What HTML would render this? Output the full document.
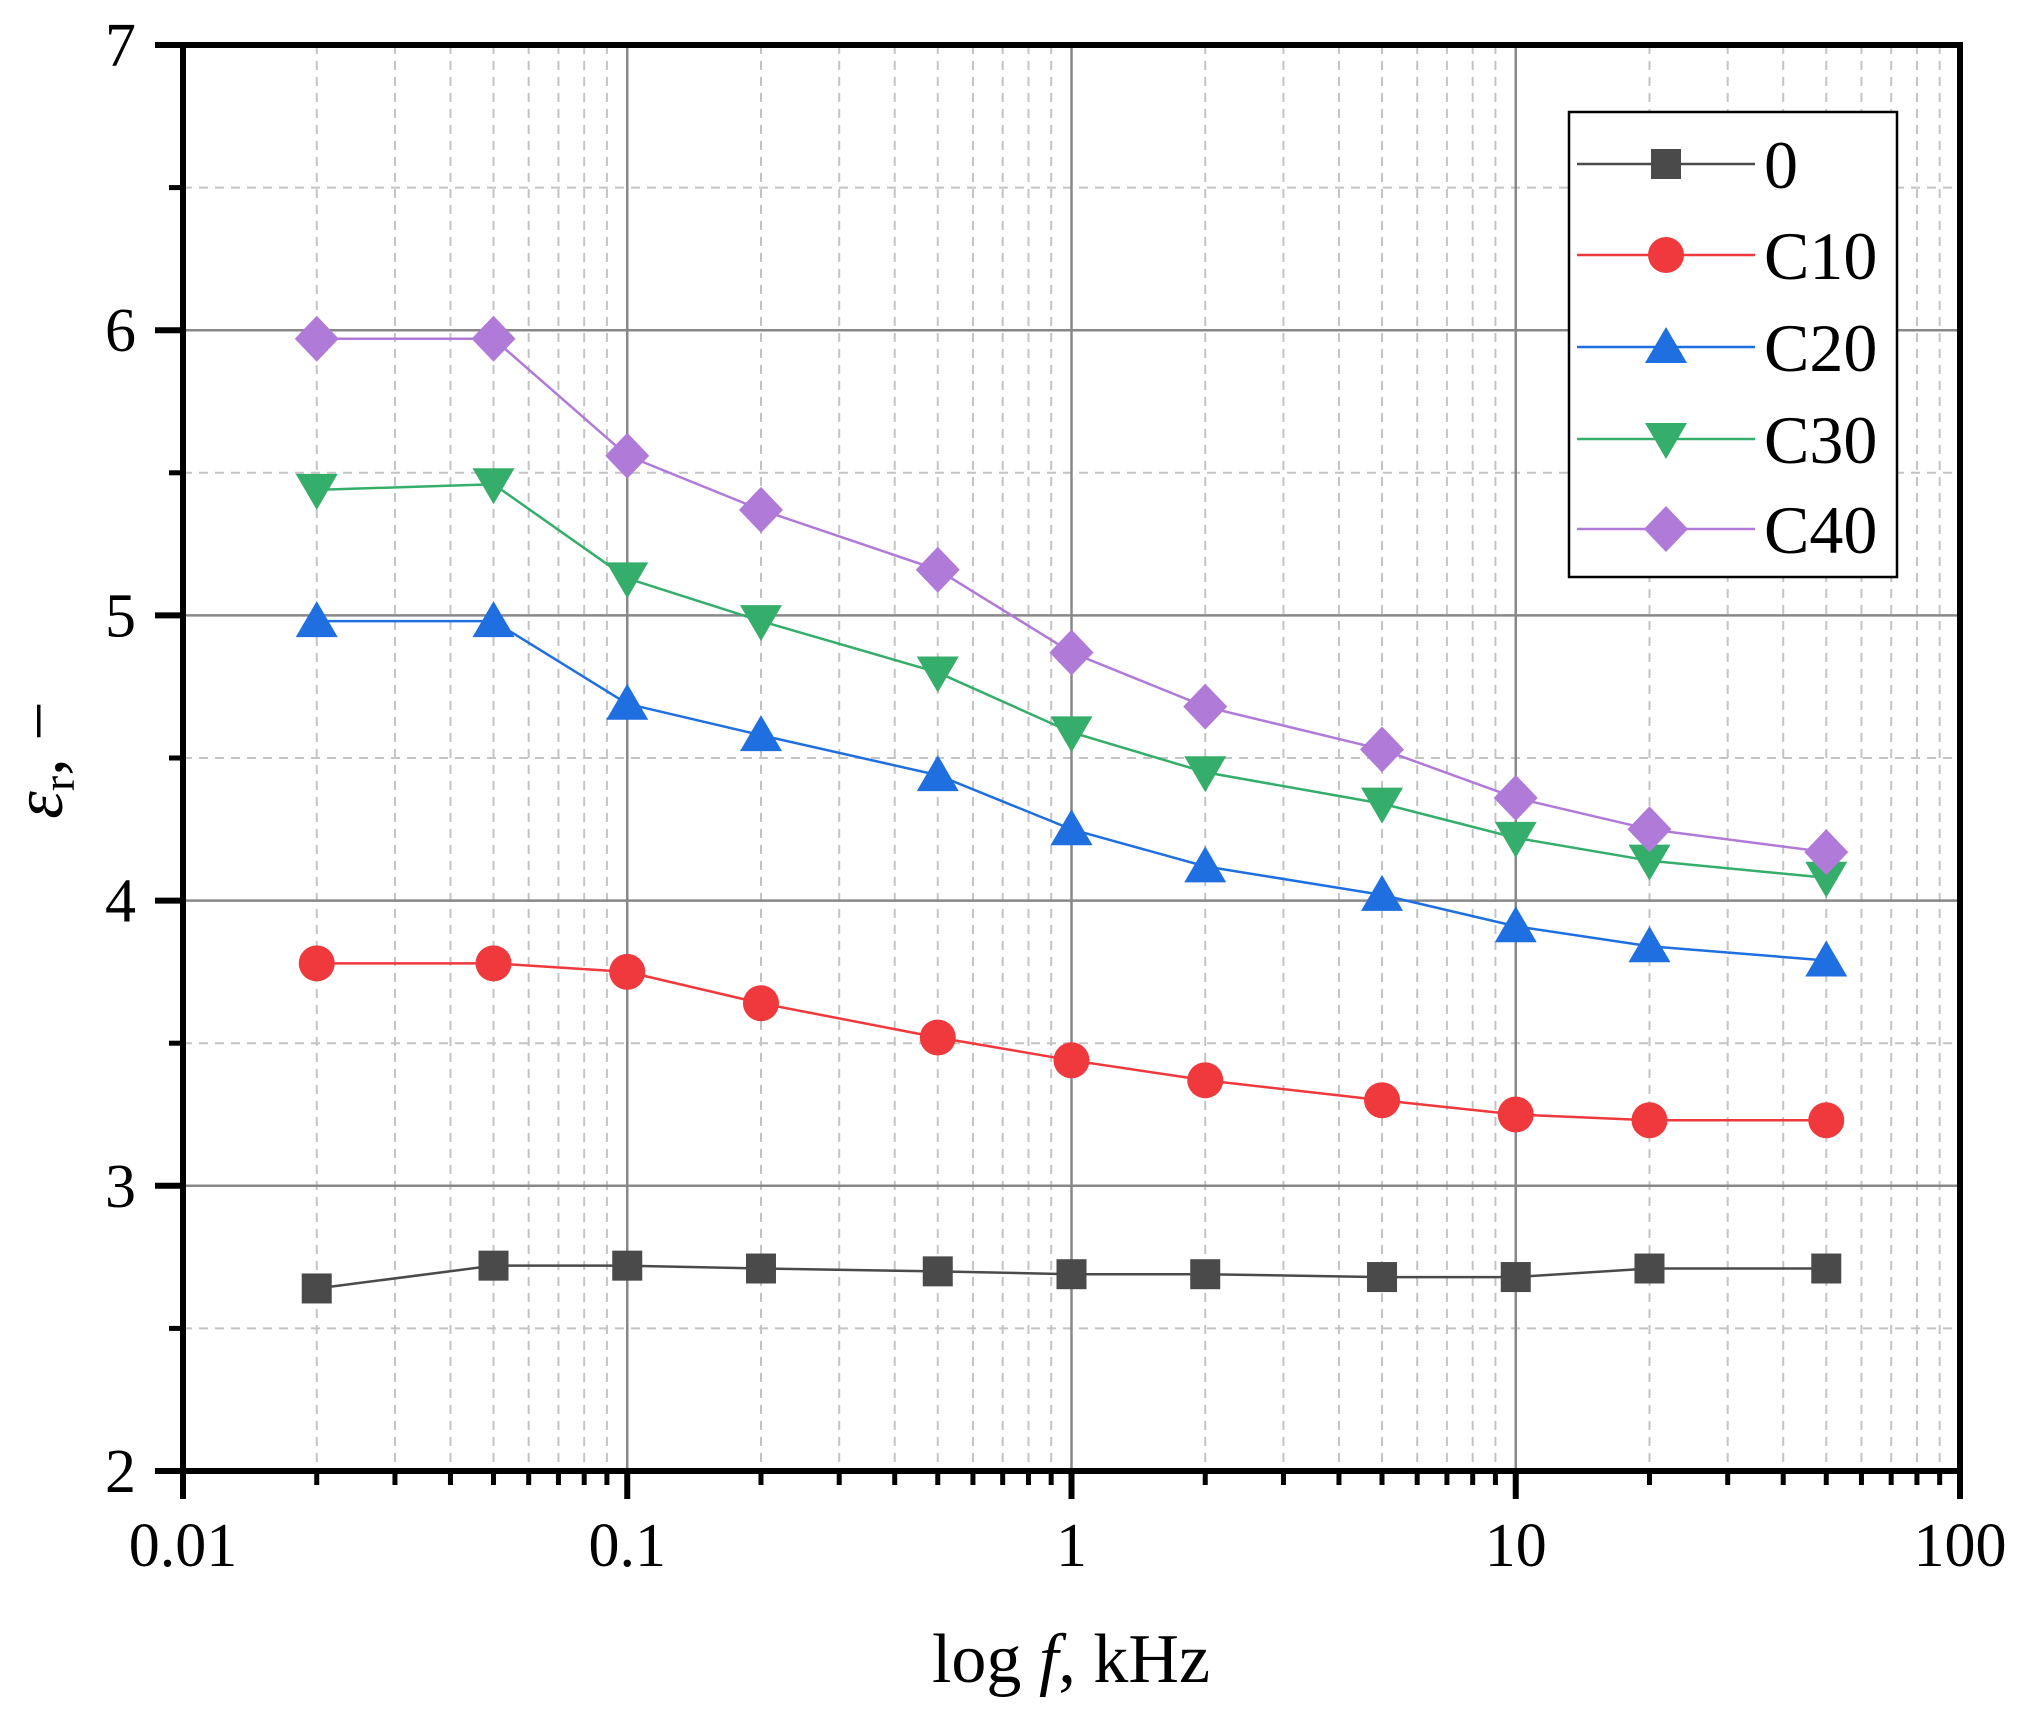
<!DOCTYPE html>
<html><head><meta charset="utf-8"><style>
html,body{margin:0;padding:0;background:#fff;}
svg{display:block;font-family:"Liberation Serif",serif;}
</style></head><body>
<svg id="s" width="2023" height="1726" viewBox="0 0 2023 1726" xmlns="http://www.w3.org/2000/svg"></svg>
<script>
const s=document.getElementById('s');
const L=183,R=1960,T=45,B=1471;
const X=f=>L+(Math.log10(f)+2)*444.25;
const Y=v=>B-(v-2)*285.2;
let h='';
for(let d=-2;d<2;d++)for(let k=2;k<=9;k++){const x=X(k*Math.pow(10,d));h+=`<line x1="${x}" y1="${T}" x2="${x}" y2="${B}" stroke="#c4c4c4" stroke-width="2" stroke-dasharray="9,7"/>`;}
for(let v=2.5;v<7;v+=1){h+=`<line x1="${L}" y1="${Y(v)}" x2="${R}" y2="${Y(v)}" stroke="#c4c4c4" stroke-width="2" stroke-dasharray="9,7"/>`;}
[0.1,1,10].forEach(f=>{h+=`<line x1="${X(f)}" y1="${T}" x2="${X(f)}" y2="${B}" stroke="#888" stroke-width="2.5"/>`;});
[3,4,5,6].forEach(v=>{h+=`<line x1="${L}" y1="${Y(v)}" x2="${R}" y2="${Y(v)}" stroke="#888" stroke-width="2.5"/>`;});
const fr=[0.02,0.05,0.1,0.2,0.5,1,2,5,10,20,50];
const S=[
 ['0','#4a4a4a','sq',[2.64,2.72,2.72,2.71,2.70,2.69,2.69,2.68,2.68,2.71,2.71]],
 ['C10','#ef393c','ci',[3.78,3.78,3.75,3.64,3.52,3.44,3.37,3.30,3.25,3.23,3.23]],
 ['C20','#1f6fe0','tu',[4.98,4.98,4.69,4.58,4.44,4.25,4.12,4.02,3.91,3.84,3.79]],
 ['C30','#35ae6b','td',[5.44,5.46,5.13,4.98,4.80,4.59,4.45,4.34,4.22,4.14,4.08]],
 ['C40','#b07ad9','di',[5.97,5.97,5.56,5.37,5.16,4.87,4.68,4.53,4.36,4.25,4.17]]];
function mk(t,x,y,c){
 if(t=='sq')return `<rect x="${x-15}" y="${y-15}" width="30" height="30" fill="${c}"/>`;
 if(t=='ci')return `<circle cx="${x}" cy="${y}" r="18" fill="${c}"/>`;
 if(t=='tu')return `<polygon points="${x},${y-20} ${x+21},${y+16} ${x-21},${y+16}" fill="${c}"/>`;
 if(t=='td')return `<polygon points="${x},${y+20} ${x+21},${y-16} ${x-21},${y-16}" fill="${c}"/>`;
 return `<polygon points="${x},${y-23} ${x+22},${y} ${x},${y+23} ${x-22},${y}" fill="${c}"/>`;
}
S.forEach(([n,c,t,v])=>{
 h+=`<polyline fill="none" stroke="${c}" stroke-width="2.5" points="${v.map((y,i)=>X(fr[i])+','+Y(y)).join(' ')}"/>`;
 v.forEach((y,i)=>h+=mk(t,X(fr[i]),Y(y),c));
});
h+=`<rect x="${L}" y="${T}" width="${R-L}" height="${B-T}" fill="none" stroke="#000" stroke-width="6"/>`;
for(let d=-2;d<=2;d++){const x=X(Math.pow(10,d));h+=`<line x1="${x}" y1="${B}" x2="${x}" y2="${B+28}" stroke="#000" stroke-width="6"/>`;
 h+=`<text x="${x}" y="${B+95}" font-size="62" text-anchor="middle">${[0.01,0.1,1,10,100][d+2]}</text>`;
 if(d<2)for(let k=2;k<=9;k++){const xx=X(k*Math.pow(10,d));h+=`<line x1="${xx}" y1="${B}" x2="${xx}" y2="${B+14}" stroke="#000" stroke-width="5"/>`;}}
for(let v=2;v<=7;v++){h+=`<line x1="${L-28}" y1="${Y(v)}" x2="${L}" y2="${Y(v)}" stroke="#000" stroke-width="6"/>`;
 h+=`<text x="${136}" y="${Y(v)+21}" font-size="62" text-anchor="end">${v}</text>`;
 if(v<7)h+=`<line x1="${L-14}" y1="${Y(v+0.5)}" x2="${L}" y2="${Y(v+0.5)}" stroke="#000" stroke-width="5"/>`;}
h+=`<text x="1071" y="1682" font-size="70" text-anchor="middle">log <tspan font-style="italic">f</tspan>, kHz</text>`;
h+=`<text transform="translate(62,760) rotate(-90)" font-size="70" text-anchor="middle"><tspan font-style="italic">ε</tspan><tspan font-size="46" dy="12">r</tspan><tspan dy="-12">, −</tspan></text>`;
h+=`<rect x="1569" y="112" width="328" height="465" fill="#fff" stroke="#000" stroke-width="2.5"/>`;
const ly=[164,255,347,439,529];
S.forEach(([n,c,t],i)=>{const y=ly[i];
 h+=`<line x1="1577" y1="${y}" x2="1755" y2="${y}" stroke="${c}" stroke-width="2.5"/>`+mk(t,1666,y,c);
 h+=`<text x="1764" y="${y+24}" font-size="68">${n}</text>`;});
s.innerHTML=h;
</script>
</body></html>
